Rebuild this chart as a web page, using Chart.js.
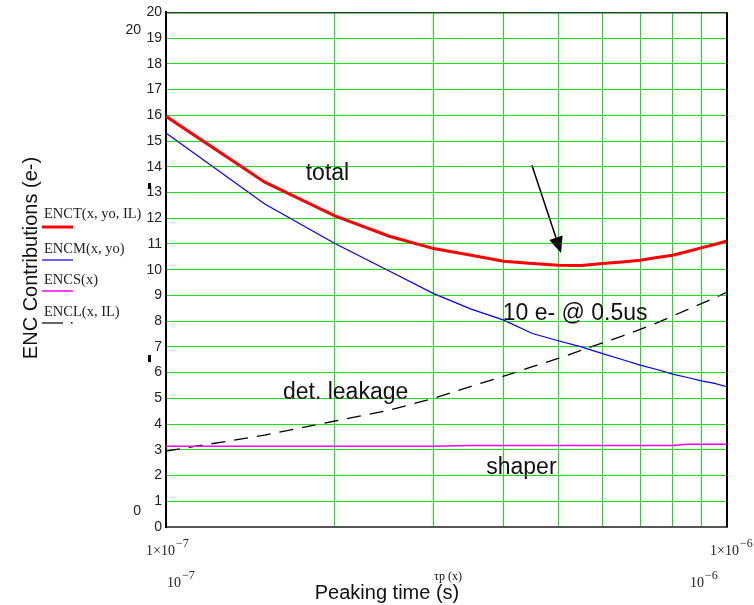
<!DOCTYPE html>
<html>
<head>
<meta charset="utf-8">
<script src="https://cdn.jsdelivr.net/npm/chart.js@4.4.1/dist/chart.umd.min.js"></script>
<style>
html,body{margin:0;padding:0;background:#fff;}
#wrap{width:754px;height:605px;position:relative;}
</style>
</head>
<body>
<div id="wrap"><canvas id="c" width="754" height="605"></canvas></div>
<script>
// Peaking time samples (s)
const peakingTimes = [1.0e-7,1.5e-7,2.0e-7,2.5e-7,3.0e-7,3.5e-7,4.0e-7,4.5e-7,5.0e-7,5.5e-7,6.0e-7,6.5e-7,7.0e-7,7.5e-7,8.0e-7,8.5e-7,9.0e-7,9.5e-7,1.0e-6];
// ENC contributions (e-)
const encTotal   = [15.96,13.40,12.09,11.30,10.82,10.56,10.33,10.24,10.17,10.16,10.24,10.30,10.37,10.47,10.56,10.71,10.85,10.98,11.12];
const encSeries  = [15.31,12.55,11.02,9.95,9.07,8.47,8.04,7.52,7.24,7.00,6.74,6.51,6.29,6.12,5.94,5.81,5.68,5.58,5.45];
const encShaper  = [3.14,3.14,3.14,3.14,3.14,3.17,3.17,3.17,3.17,3.17,3.17,3.17,3.17,3.17,3.17,3.22,3.22,3.22,3.22];
const encLeakage = [2.95,3.57,4.12,4.54,5.00,5.47,5.86,6.23,6.55,6.87,7.16,7.42,7.68,7.93,8.20,8.45,8.68,8.90,9.13];
const yTicks = [0,1,2,3,4,5,6,7,8,9,10,11,12,13,14,15,16,17,18,19,20];
const xGridTicks = [1e-7,2e-7,3e-7,4e-7,5e-7,6e-7,7e-7,8e-7,9e-7,1e-6];
const legendLabels = ["ENCT(x, yo, IL)","ENCM(x, yo)","ENCS(x)","ENCL(x, IL)"];
const seriesColors = ["#ff0000","#0000ff","#ff00ff","#000000"];
// annotations [text, x (s), y (e-)]
const notes = [["total",1.94e-7,13.75],["10 e- @ 0.5us",5.36e-7,8.31],["det. leakage",2.09e-7,5.24],["shaper",4.30e-7,2.29]];
const arrowFrom = [4.49e-7,14.06];
const arrowTo = [5.06e-7,10.65];

const pts = arr => peakingTimes.map((x,i)=>({x:x,y:arr[i]}));
const GRID = '#11e611';

const deco = {
  id:'deco',
  afterDraw(chart){
    const ctx = chart.ctx, a = chart.chartArea;
    const xs = chart.scales.x, ys = chart.scales.y;
    ctx.save();
    // frame top/right
    ctx.strokeStyle = '#000';
    ctx.lineWidth = 1;
    ctx.beginPath(); ctx.moveTo(a.left, a.top+0.5); ctx.lineTo(a.right, a.top+0.5); ctx.stroke();
    ctx.lineWidth = 2;
    ctx.beginPath(); ctx.moveTo(a.right, a.top); ctx.lineTo(a.right, a.bottom); ctx.stroke();

    // arrow
    const x0 = xs.getPixelForValue(arrowFrom[0]), y0 = ys.getPixelForValue(arrowFrom[1]);
    const x1 = xs.getPixelForValue(arrowTo[0]), y1 = ys.getPixelForValue(arrowTo[1]);
    const ang = Math.atan2(y1-y0, x1-x0);
    const hl = 16, hw = 7;
    const bx = x1 - hl*Math.cos(ang), by = y1 - hl*Math.sin(ang);
    ctx.lineWidth = 1.5; ctx.strokeStyle = '#000'; ctx.fillStyle = '#000';
    ctx.beginPath(); ctx.moveTo(x0,y0); ctx.lineTo(bx,by); ctx.stroke();
    ctx.beginPath(); ctx.moveTo(x1,y1);
    ctx.lineTo(bx + hw*Math.sin(ang), by - hw*Math.cos(ang));
    ctx.lineTo(bx - hw*Math.sin(ang), by + hw*Math.cos(ang));
    ctx.closePath(); ctx.fill();

    // annotations
    ctx.fillStyle = '#111';
    ctx.font = '23px "Liberation Sans", Arial, sans-serif';
    ctx.textAlign = 'center'; ctx.textBaseline = 'middle';
    notes.forEach(n => ctx.fillText(n[0], xs.getPixelForValue(n[1]), ys.getPixelForValue(n[2])));

    // y title
    ctx.save();
    ctx.translate(31, 258); ctx.rotate(-Math.PI/2);
    ctx.font = '20px "Liberation Sans", Arial, sans-serif';
    ctx.fillStyle = '#111';
    ctx.fillText('ENC Contributions (e-)', 0, 0);
    ctx.restore();

    // x title
    ctx.font = '20px "Liberation Sans", Arial, sans-serif';
    ctx.fillText('Peaking time (s)', 387, 593);
    ctx.font = '12px "Liberation Serif", "Times New Roman", serif';
    ctx.fillText('\u03c4p (x)', 448, 577);

    // axis limit labels
    ctx.font = '14px "Liberation Sans", Arial, sans-serif';
    ctx.fillStyle = '#222';
    ctx.textAlign = 'right';
    ctx.fillText('20', 141, 30);
    ctx.fillText('0', 141, 511);

    // x limit labels (serif with superscripts)
    function pow(base, exp, xLeft, yBase){
      ctx.textAlign = 'left'; ctx.textBaseline = 'alphabetic';
      ctx.font = '14px "Liberation Serif", "Times New Roman", serif';
      ctx.fillText(base, xLeft, yBase);
      const w = ctx.measureText(base).width;
      ctx.font = '12px "Liberation Serif", "Times New Roman", serif';
      ctx.fillText('\u2212' + exp, xLeft + w + 1, yBase - 8);
    }
    ctx.fillStyle = '#222';
    pow('1\u00d710', '7', 146, 555);
    pow('1\u00d710', '6', 710, 555);
    pow('10', '7', 167, 587);
    pow('10', '6', 690, 587);

    // small marks
    ctx.fillStyle = '#000';
    ctx.fillRect(148, 183, 3, 6);
    ctx.fillRect(148, 355, 3, 7);

    // legend
    ctx.font = '14.5px "Liberation Serif", "Times New Roman", serif';
    ctx.textAlign = 'left'; ctx.textBaseline = 'alphabetic';
    const ty = [218, 253, 284, 316];
    const ly = [227, 260, 291, 323];
    const lw = [3, 1.2, 1.5, 1.2];
    legendLabels.forEach((t,i)=>{
      ctx.fillStyle = '#222';
      ctx.fillText(t, 44, ty[i]);
      ctx.strokeStyle = seriesColors[i];
      ctx.lineWidth = lw[i];
      ctx.beginPath(); ctx.moveTo(42, ly[i]); ctx.lineTo(i===3?63:73, ly[i]); ctx.stroke();
    });
    ctx.fillStyle = '#000';
    ctx.fillRect(71, 322, 1.5, 1.5);
    ctx.restore();
  }
};

new Chart(document.getElementById('c'), {
  type: 'line',
  data: {
    datasets: [
      {label: legendLabels[0], data: pts(encTotal), borderColor: seriesColors[0], borderWidth: 3},
      {label: legendLabels[1], data: pts(encSeries), borderColor: seriesColors[1], borderWidth: 1.2},
      {label: legendLabels[2], data: pts(encShaper), borderColor: seriesColors[2], borderWidth: 1.5},
      {label: legendLabels[3], data: pts(encLeakage), borderColor: seriesColors[3], borderWidth: 1.3, borderDash: [14, 9]}
    ]
  },
  options: {
    responsive: false,
    animation: false,
    devicePixelRatio: 1,
    elements: {point: {radius: 0}, line: {tension: 0, fill: false}},
    layout: {padding: {top: 12, right: 27, left: 0, bottom: 0}},
    plugins: {legend: {display: false}, tooltip: {enabled: false}},
    scales: {
      x: {
        type: 'logarithmic', min: 1e-7, max: 1e-6,
        afterBuildTicks: s => { s.ticks = xGridTicks.map(v => ({value: v})); },
        ticks: {display: false},
        grid: {color: GRID, lineWidth: 1, drawTicks: false},
        border: {display: true, color: '#555', width: 2},
        afterFit: s => { s.height = 78; }
      },
      y: {
        min: 0, max: 20,
        afterBuildTicks: s => { s.ticks = yTicks.map(v => ({value: v})); },
        ticks: {color: '#222', padding: 4, font: {family: '"Liberation Sans", Arial, sans-serif', size: 14}},
        grid: {color: GRID, lineWidth: 1, drawTicks: false},
        border: {display: true, color: '#000', width: 2},
        afterFit: s => { s.width = 166; }
      }
    }
  },
  plugins: [deco]
});
</script>
</body>
</html>
